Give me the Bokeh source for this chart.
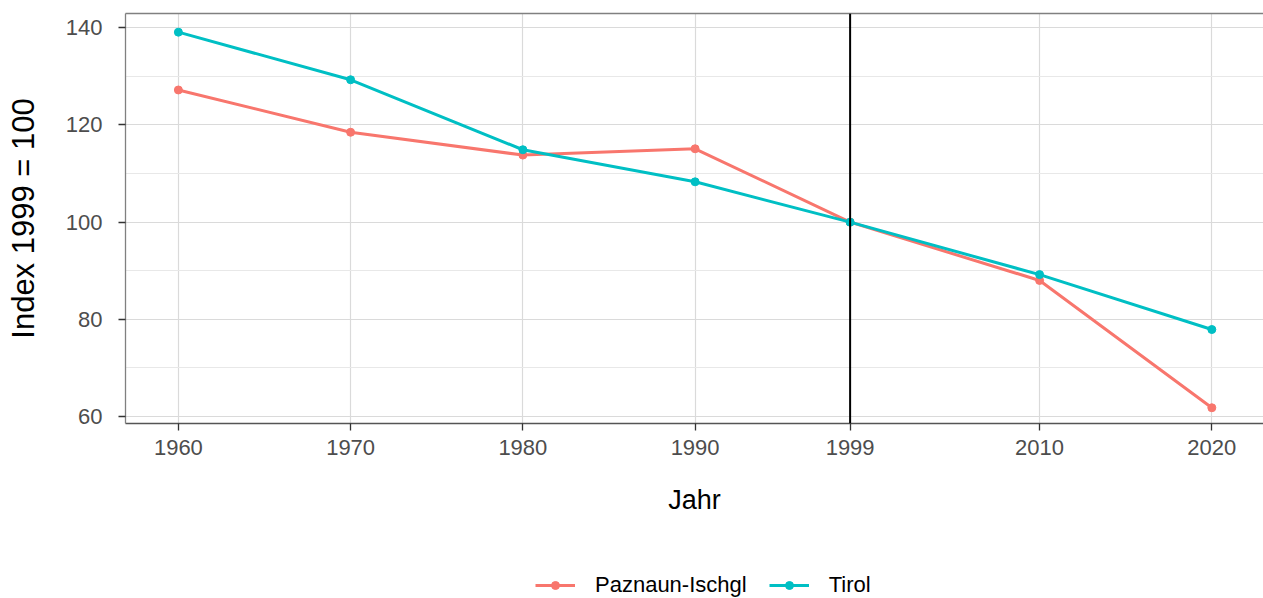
from bokeh.plotting import figure
from bokeh.layouts import column
from bokeh.models import (FixedTicker, Legend, LegendItem, Span, Range1d,
                          LinearAxis, ColumnDataSource)
from bokeh.embed import file_html
from bokeh.resources import INLINE

# ---- data ----
years = [1960, 1970, 1980, 1990, 1999, 2010, 2020]
paznaun = [127.2, 118.5, 113.8, 115.1, 100.0, 88.0, 61.8]
tirol = [139.1, 129.3, 114.9, 108.3, 100.0, 89.2, 77.9]
series_names = ["Paznaun-Ischgl", "Tirol"]
series_colors = ["#F8766D", "#00BFC4"]
x_ticks = [1960, 1970, 1980, 1990, 1999, 2010, 2020]
y_ticks = [60, 80, 100, 120, 140]
y_minor = [70, 90, 110, 130]
reference_year = 1999
x_title = "Jahr"
y_title = "Index 1999 = 100"

FONT = "Liberation Sans"
LINE_W = 3
PT_SIZE = 8

p = figure(width=1263, height=535, output_backend="svg", toolbar_location=None,
           x_range=Range1d(1956.93, 2023.0), y_range=Range1d(58.56, 142.94),
           min_border_left=125, min_border_right=0, min_border_top=13,
           min_border_bottom=112)
p.background_fill_color = "white"
p.border_fill_color = "white"
p.outline_line_color = None

# grids
p.xgrid.ticker = FixedTicker(ticks=[t for t in x_ticks if t != reference_year])
p.xgrid.grid_line_color = "#DADADA"
p.xgrid.grid_line_width = 1.2
p.ygrid.ticker = FixedTicker(ticks=y_ticks, minor_ticks=y_minor)
p.ygrid.grid_line_color = "#DADADA"
p.ygrid.grid_line_width = 1.2
p.ygrid.minor_grid_line_color = "#E8E8E8"
p.ygrid.minor_grid_line_width = 1.0

# axes
xa = p.xaxis[0]
xa.ticker = FixedTicker(ticks=x_ticks)
ya = p.yaxis[0]
ya.ticker = FixedTicker(ticks=y_ticks)
for ax in (xa, ya):
    ax.major_label_text_font = FONT
    ax.major_label_text_font_size = "22px"
    ax.major_label_text_color = "#4D4D4D"
    ax.axis_label_text_font = FONT
    ax.axis_label_text_font_style = "normal"
    ax.axis_label_text_color = "black"
    ax.major_tick_out = 7
    ax.major_tick_in = 0
    ax.minor_tick_out = 0
    ax.minor_tick_in = 0
    ax.major_tick_line_color = "#333333"
    ax.major_tick_line_width = 1.3
xa.axis_label = x_title
xa.axis_label_text_font_size = "27px"
xa.axis_line_color = "#555555"
xa.axis_line_width = 1.5
xa.major_label_standoff = 9
xa.axis_label_standoff = 27
ya.axis_label = y_title
ya.axis_label_text_font_size = "31px"
ya.axis_line_color = "#808080"
ya.axis_line_width = 1.3
ya.major_label_standoff = 16
ya.axis_label_standoff = 22

# top border as an unlabeled axis
top = LinearAxis(ticker=FixedTicker(ticks=[]), major_label_text_font_size="0px",
                 major_tick_out=0, major_tick_in=0, minor_tick_out=0, minor_tick_in=0,
                 axis_line_color="#808080", axis_line_width=1.3)
p.add_layout(top, "above")

# reference line
p.add_layout(Span(location=reference_year, dimension="height",
                  line_color="black", line_width=2))

sources = []
for vals, col in zip([paznaun, tirol], series_colors):
    src = ColumnDataSource(dict(x=years, y=vals))
    sources.append(src)
    p.line("x", "y", source=src, line_color=col, line_width=LINE_W)
    p.scatter("x", "y", source=src, size=PT_SIZE, fill_color=col, line_color=col)

# ---- legend strip below the plot (its ranges keep the data out of view) ----
lg = figure(width=1263, height=63, output_backend="svg", toolbar_location=None,
            x_range=Range1d(0, 1), y_range=Range1d(0, 1),
            x_axis_location=None, y_axis_location=None,
            min_border_left=0, min_border_right=0, min_border_top=0,
            min_border_bottom=0)
lg.outline_line_color = None
lg.grid.visible = False
lg.background_fill_color = "white"
lg.border_fill_color = "white"

items = []
for name, col, src in zip(series_names, series_colors, sources):
    lr = lg.line("x", "y", source=src, line_color=col, line_width=LINE_W)
    sr = lg.scatter("x", "y", source=src, size=PT_SIZE, fill_color=col, line_color=col)
    items.append(LegendItem(label=name, renderers=[lr, sr]))

legend = Legend(items=items, orientation="horizontal", location=(410, 0),
                glyph_width=40, glyph_height=20, label_standoff=20, spacing=22,
                padding=0, margin=0, border_line_color=None,
                background_fill_alpha=0, label_text_font=FONT,
                label_text_font_size="22px", label_text_color="black")
lg.add_layout(legend, "center")

layout = column(p, lg, spacing=0)
open("out.html", "w").write(file_html(layout, INLINE))
